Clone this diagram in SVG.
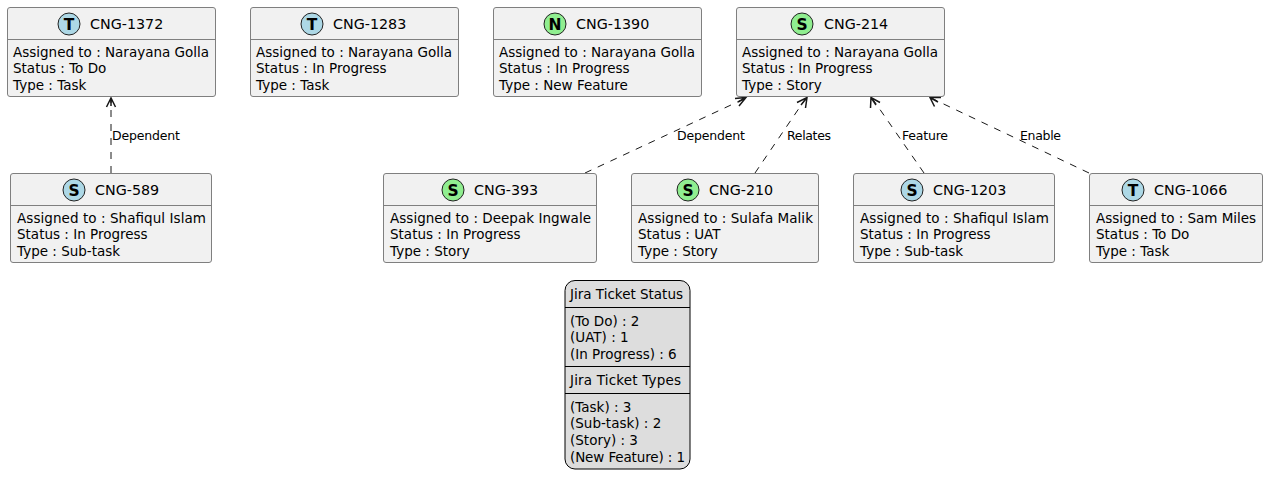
<svg xmlns="http://www.w3.org/2000/svg" width="1268" height="488" viewBox="0 0 1268 488">
<style>
text{font-family:"DejaVu Sans","Liberation Sans",sans-serif;font-size:13.5px;fill:#000}
.t{font-size:14.3px}
.box{fill:#f1f1f1;stroke:#7f7f7f;stroke-width:1}
.sep{stroke:#7f7f7f;stroke-width:1}
.blue{fill:#add8e6;stroke:#222;stroke-width:1}
.green{fill:#90ee90;stroke:#222;stroke-width:1}
.g{font-size:15.5px;font-weight:bold;text-anchor:middle}
.c{fill:none;stroke:#181818;stroke-width:1;stroke-dasharray:7 7}
.h{fill:none;stroke:#181818;stroke-width:1.5}
.l{font-size:12.5px}
.leg{fill:#dddddd;stroke:#000;stroke-width:1}
.ls{stroke:#000;stroke-width:1}
</style>
<g id="connectors">
<path class="c" d="M111 173V98"/><path class="h" d="M106.5 107L111 98L115.500 107M111 98V106"/>
<text class="l" x="112" y="140" textLength="68">Dependent</text>
<path class="c" d="M585 173L746 98"/><path class="h" d="M735 98.500L746 97.500L739 106M746 97.500L738 102"/>
<text class="l" x="677" y="140" textLength="68">Dependent</text>
<path class="c" d="M755 173L806 98"/><path class="h" d="M797 102.500L807 97.500L805.500 108M807 97.500L801 105"/>
<text class="l" x="787" y="140" textLength="44">Relates</text>
<path class="c" d="M924 173L872 98"/><path class="h" d="M870.500 108L871 97.500L880 102.500M871 97.500L876 105"/>
<text class="l" x="902" y="140" textLength="46">Feature</text>
<path class="c" d="M1089 173L931 98"/><path class="h" d="M934.500 106.500L930 97.500L941 97.500M930 97.500L938 102"/>
<text class="l" x="1020" y="140" textLength="41">Enable</text>
</g>
<g id="CNG-1372"><rect class="box" x="7.5" y="7.5" width="208" height="89" rx="2.5"/><path class="sep" d="M7.500 39.500H215.500"/><circle class="blue" cx="69" cy="24" r="11"/><text class="g" x="69" y="30">T</text><text class="t" x="90" y="29">CNG-1372</text><text x="13" y="57" textLength="196">Assigned to : Narayana Golla</text><text x="13" y="73">Status : To Do</text><text x="13" y="90">Type : Task</text></g>
<g id="CNG-1283"><rect class="box" x="250.5" y="7.5" width="208" height="89" rx="2.5"/><path class="sep" d="M250.500 39.500H458.500"/><circle class="blue" cx="312" cy="24" r="11"/><text class="g" x="312" y="30">T</text><text class="t" x="333" y="29">CNG-1283</text><text x="256" y="57" textLength="196">Assigned to : Narayana Golla</text><text x="256" y="73">Status : In Progress</text><text x="256" y="90">Type : Task</text></g>
<g id="CNG-1390"><rect class="box" x="493.5" y="7.5" width="208" height="89" rx="2.5"/><path class="sep" d="M493.500 39.500H701.500"/><circle class="green" cx="555" cy="24" r="11"/><text class="g" x="555" y="30">N</text><text class="t" x="576" y="29">CNG-1390</text><text x="499" y="57" textLength="196">Assigned to : Narayana Golla</text><text x="499" y="73">Status : In Progress</text><text x="499" y="90">Type : New Feature</text></g>
<g id="CNG-214"><rect class="box" x="736.5" y="7.5" width="208" height="89" rx="2.5"/><path class="sep" d="M736.500 39.500H944.500"/><circle class="green" cx="802" cy="24" r="11"/><text class="g" x="802" y="30">S</text><text class="t" x="824" y="29">CNG-214</text><text x="742" y="57" textLength="196">Assigned to : Narayana Golla</text><text x="742" y="73">Status : In Progress</text><text x="742" y="90">Type : Story</text></g>
<g id="CNG-589"><rect class="box" x="10.5" y="173.5" width="201" height="89" rx="2.5"/><path class="sep" d="M10.500 205.500H211.500"/><circle class="blue" cx="74" cy="190" r="11"/><text class="g" x="74" y="196">S</text><text class="t" x="95" y="195">CNG-589</text><text x="17" y="223" textLength="189">Assigned to : Shafiqul Islam</text><text x="17" y="239">Status : In Progress</text><text x="17" y="256">Type : Sub-task</text></g>
<g id="CNG-393"><rect class="box" x="383.5" y="173.5" width="213" height="89" rx="2.5"/><path class="sep" d="M383.500 205.500H596.500"/><circle class="green" cx="453" cy="190" r="11"/><text class="g" x="453" y="196">S</text><text class="t" x="474" y="195">CNG-393</text><text x="390" y="223" textLength="201">Assigned to : Deepak Ingwale</text><text x="390" y="239">Status : In Progress</text><text x="390" y="256">Type : Story</text></g>
<g id="CNG-210"><rect class="box" x="631.5" y="173.5" width="187" height="89" rx="2.5"/><path class="sep" d="M631.500 205.500H818.500"/><circle class="green" cx="688" cy="190" r="11"/><text class="g" x="688" y="196">S</text><text class="t" x="709" y="195">CNG-210</text><text x="638" y="223" textLength="175">Assigned to : Sulafa Malik</text><text x="638" y="239">Status : UAT</text><text x="638" y="256">Type : Story</text></g>
<g id="CNG-1203"><rect class="box" x="853.5" y="173.5" width="201" height="89" rx="2.5"/><path class="sep" d="M853.500 205.500H1054.500"/><circle class="blue" cx="912" cy="190" r="11"/><text class="g" x="912" y="196">S</text><text class="t" x="933" y="195">CNG-1203</text><text x="860" y="223" textLength="189">Assigned to : Shafiqul Islam</text><text x="860" y="239">Status : In Progress</text><text x="860" y="256">Type : Sub-task</text></g>
<g id="CNG-1066"><rect class="box" x="1089.5" y="173.5" width="173" height="89" rx="2.5"/><path class="sep" d="M1089.500 205.500H1262.500"/><circle class="blue" cx="1133" cy="190" r="11"/><text class="g" x="1133" y="196">T</text><text class="t" x="1154" y="195">CNG-1066</text><text x="1096" y="223" textLength="160">Assigned to : Sam Miles</text><text x="1096" y="239">Status : To Do</text><text x="1096" y="256">Type : Task</text></g>
<g id="legend"><rect class="leg" x="565" y="280.5" width="125" height="188.5" rx="10"/><path class="ls" d="M565 307.500H690M565 366.500H690M565 393.500H690"/><text x="570" y="299" textLength="113">Jira Ticket Status</text><text x="570" y="326">(To Do) : 2</text><text x="570" y="342">(UAT) : 1</text><text x="570" y="359">(In Progress) : 6</text><text x="570" y="385" textLength="111">Jira Ticket Types</text><text x="570" y="412">(Task) : 3</text><text x="570" y="428">(Sub-task) : 2</text><text x="570" y="445">(Story) : 3</text><text x="570" y="462" textLength="115">(New Feature) : 1</text></g>
</svg>
